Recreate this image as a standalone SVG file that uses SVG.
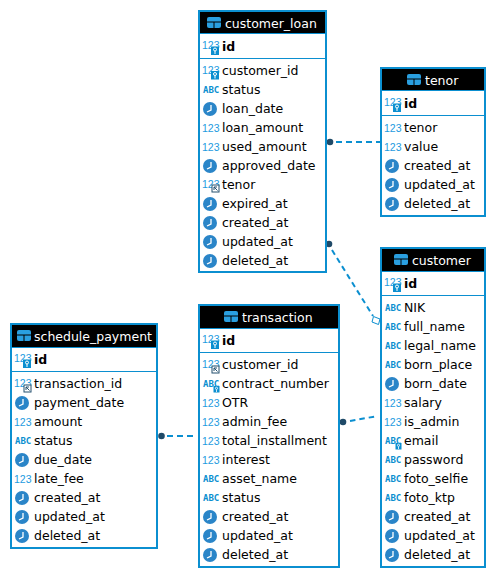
<svg xmlns="http://www.w3.org/2000/svg" width="496" height="578" viewBox="0 0 496 578">
<style>
text{font-family:"DejaVu Sans",sans-serif;font-size:12.5px;fill:#000}
.box{fill:#fff;stroke:#0b8fd0;stroke-width:2}
.hd{fill:#000}
.rule{stroke:#0b8fd0;stroke-width:1}
.ht{fill:#fff;font-size:12.5px}
.id{font-weight:bold}
.n{fill:#1e9be0;font-size:10.5px;font-family:"Liberation Sans",sans-serif}
.a{fill:#0b8fd0;font-size:9px;font-weight:bold;font-family:"DejaVu Sans Mono",monospace}
.c{stroke:#0b8fd0;stroke-width:2;stroke-dasharray:6 4;fill:none}
.c2{stroke-dasharray:5.500 4}
.d{fill:#1f4a68}
</style>
<defs>
<g id="tbl"><rect width="14" height="11" rx="2" fill="#2a9fe0"/><path d="M0 5h14M7 5v6" stroke="#000" stroke-width="1"/></g>
<g id="clk"><circle cx="7" cy="7" r="7" fill="#2a85c8"/><path d="M8 3v5l-4 2" stroke="#fff" stroke-width="1.300" fill="none"/></g>
<g id="key"><rect width="8" height="8.500" fill="#0b8fd0"/><circle cx="4" cy="3" r="1.500" fill="none" stroke="#fff"/><path d="M4 4.500v3" stroke="#fff"/></g>
<g id="ks"><rect width="6" height="6.500" fill="#0b8fd0"/><circle cx="3" cy="2.300" r="1.100" fill="none" stroke="#fff" stroke-width=".8"/><path d="M3 3.500v2.500" stroke="#fff" stroke-width=".8"/></g>
<g id="fk"><rect width="7" height="7" fill="#fff" stroke="#24516f"/><path d="M2 2l3.500 3.500M2 2h3M2 2v3" stroke="#24516f" fill="none"/></g>
</defs>
<g id="connectors">
<path class="c" d="M336 142H380"/>
<path class="c c2" d="M332 250L373 316"/>
<path class="c c2" d="M350 421L375 416.500"/>
<path class="c" d="M167 436H194"/>
<circle class="d" cx="330" cy="142" r="3.300"/>
<circle class="d" cx="329" cy="244" r="3.300"/>
<circle class="d" cx="343" cy="422" r="3.300"/>
<circle class="d" cx="161.500" cy="436" r="3.300"/>
<path d="M373.500 316.500l6.500 2.500-1.500 5.500-6.500-2.500z" fill="#fff" stroke="#0b8fd0"/>
</g>
<g id="customer_loan">
<rect class="box" x="199" y="11" width="127" height="261"/>
<rect class="hd" x="200" y="12" width="125" height="21"/>
<use href="#tbl" x="207" y="17"/>
<text class="ht" x="225" y="28">customer_loan</text>
<path class="rule" d="M199 33.500H326M199 58.500H326"/>
<text class="n" x="202" y="49">123</text><use href="#key" x="211" y="46.500"/><text class="id" x="222" y="51">id</text>
<text class="n" x="202" y="74">123</text><use href="#key" x="211" y="71"/><text x="222" y="75">customer_id</text>
<text class="a" x="203" y="93">ABC</text><text x="222" y="94">status</text>
<use href="#clk" x="203" y="102"/><text x="222" y="113">loan_date</text>
<text class="n" x="202" y="132">123</text><text x="222" y="132">loan_amount</text>
<text class="n" x="202" y="151">123</text><text x="222" y="151">used_amount</text>
<use href="#clk" x="203" y="159"/><text x="222" y="170">approved_date</text>
<text class="n" x="202" y="188">123</text><use href="#fk" x="212" y="185"/><text x="222" y="189">tenor</text>
<use href="#clk" x="203" y="197"/><text x="222" y="208">expired_at</text>
<use href="#clk" x="203" y="216"/><text x="222" y="227">created_at</text>
<use href="#clk" x="203" y="235"/><text x="222" y="246">updated_at</text>
<use href="#clk" x="203" y="254"/><text x="222" y="265">deleted_at</text>
</g>
<g id="tenor">
<rect class="box" x="381" y="68" width="104" height="148"/>
<rect class="hd" x="382" y="69" width="102" height="21"/>
<use href="#tbl" x="407" y="74"/>
<text class="ht" x="425" y="85">tenor</text>
<path class="rule" d="M381 90.500H485M381 115.500H485"/>
<text class="n" x="384" y="106">123</text><use href="#key" x="393" y="103.500"/><text class="id" x="404" y="108">id</text>
<text class="n" x="384" y="132">123</text><text x="404" y="132">tenor</text>
<text class="n" x="384" y="151">123</text><text x="404" y="151">value</text>
<use href="#clk" x="385" y="159"/><text x="404" y="170">created_at</text>
<use href="#clk" x="385" y="178"/><text x="404" y="189">updated_at</text>
<use href="#clk" x="385" y="197"/><text x="404" y="208">deleted_at</text>
</g>
<g id="customer">
<rect class="box" x="381" y="248" width="104" height="319"/>
<rect class="hd" x="382" y="249" width="102" height="22"/>
<use href="#tbl" x="394" y="254"/>
<text class="ht" x="412" y="265">customer</text>
<path class="rule" d="M381 271.500H485M381 295.500H485"/>
<text class="n" x="384" y="286">123</text><use href="#key" x="393" y="283.500"/><text class="id" x="404" y="288">id</text>
<text class="a" x="385" y="311">ABC</text><text x="404" y="312">NIK</text>
<text class="a" x="385" y="330">ABC</text><text x="404" y="331">full_name</text>
<text class="a" x="385" y="349">ABC</text><text x="404" y="350">legal_name</text>
<text class="a" x="385" y="368">ABC</text><text x="404" y="369">born_place</text>
<use href="#clk" x="385" y="377"/><text x="404" y="388">born_date</text>
<text class="n" x="384" y="407">123</text><text x="404" y="407">salary</text>
<text class="n" x="384" y="426">123</text><text x="404" y="426">is_admin</text>
<text class="a" x="385" y="444">ABC</text><use href="#ks" x="395.500" y="443"/><text x="404" y="445">email</text>
<text class="a" x="385" y="463">ABC</text><text x="404" y="464">password</text>
<text class="a" x="385" y="482">ABC</text><text x="404" y="483">foto_selfie</text>
<text class="a" x="385" y="501">ABC</text><text x="404" y="502">foto_ktp</text>
<use href="#clk" x="385" y="510"/><text x="404" y="521">created_at</text>
<use href="#clk" x="385" y="529"/><text x="404" y="540">updated_at</text>
<use href="#clk" x="385" y="548"/><text x="404" y="559">deleted_at</text>
</g>
<g id="transaction">
<rect class="box" x="199" y="305" width="140" height="262"/>
<rect class="hd" x="200" y="306" width="138" height="22"/>
<use href="#tbl" x="224" y="311"/>
<text class="ht" x="242" y="322">transaction</text>
<path class="rule" d="M199 328.500H339M199 352.500H339"/>
<text class="n" x="202" y="343">123</text><use href="#key" x="211" y="340.500"/><text class="id" x="222" y="345">id</text>
<text class="n" x="202" y="368">123</text><use href="#fk" x="212" y="366"/><text x="222" y="369">customer_id</text>
<text class="a" x="203" y="387">ABC</text><use href="#ks" x="213.500" y="386"/><text x="222" y="388">contract_number</text>
<text class="n" x="202" y="407">123</text><text x="222" y="407">OTR</text>
<text class="n" x="202" y="426">123</text><text x="222" y="426">admin_fee</text>
<text class="n" x="202" y="445">123</text><text x="222" y="445">total_installment</text>
<text class="n" x="202" y="464">123</text><text x="222" y="464">interest</text>
<text class="a" x="203" y="482">ABC</text><text x="222" y="483">asset_name</text>
<text class="a" x="203" y="501">ABC</text><text x="222" y="502">status</text>
<use href="#clk" x="203" y="510"/><text x="222" y="521">created_at</text>
<use href="#clk" x="203" y="529"/><text x="222" y="540">updated_at</text>
<use href="#clk" x="203" y="548"/><text x="222" y="559">deleted_at</text>
</g>
<g id="schedule_payment">
<rect class="box" x="11" y="324" width="146" height="224"/>
<rect class="hd" x="12" y="325" width="144" height="22"/>
<use href="#tbl" x="17" y="330"/>
<text class="ht" x="34" y="341">schedule_payment</text>
<path class="rule" d="M11 347.500H157M11 371.500H157"/>
<text class="n" x="14" y="362">123</text><use href="#key" x="23" y="359.500"/><text class="id" x="34" y="364">id</text>
<text class="n" x="14" y="387">123</text><use href="#fk" x="24" y="385"/><text x="34" y="388">transaction_id</text>
<use href="#clk" x="15" y="396"/><text x="34" y="407">payment_date</text>
<text class="n" x="14" y="426">123</text><text x="34" y="426">amount</text>
<text class="a" x="15" y="444">ABC</text><text x="34" y="445">status</text>
<use href="#clk" x="15" y="453"/><text x="34" y="464">due_date</text>
<text class="n" x="14" y="483">123</text><text x="34" y="483">late_fee</text>
<use href="#clk" x="15" y="491"/><text x="34" y="502">created_at</text>
<use href="#clk" x="15" y="510"/><text x="34" y="521">updated_at</text>
<use href="#clk" x="15" y="529"/><text x="34" y="540">deleted_at</text>
</g>
</svg>
